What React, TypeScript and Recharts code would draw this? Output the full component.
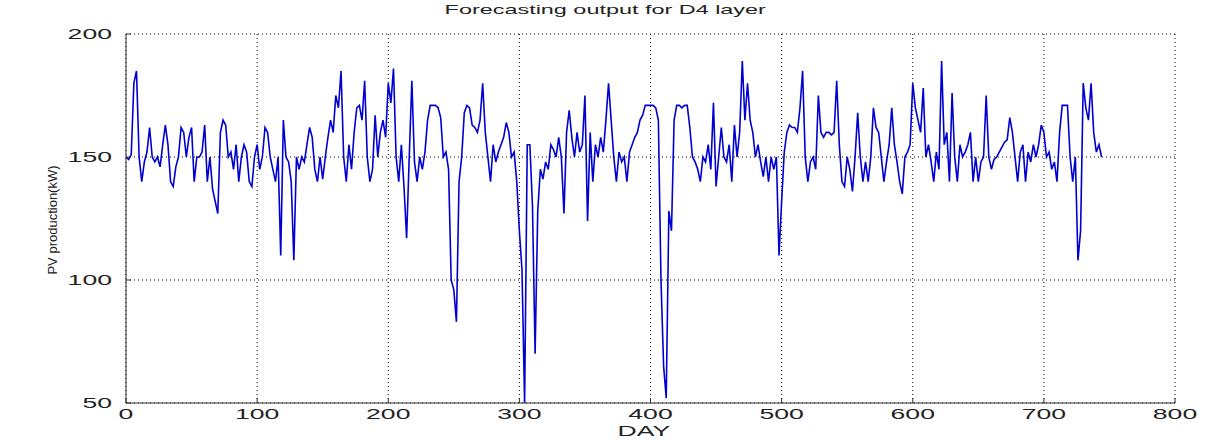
import React from "react";
import { LineChart, Line, XAxis, YAxis, CartesianGrid } from "recharts";

// PV production (kW), one value every 2 days, grouped by 100-day blocks
const pv000 = [150,149,151,180,185,150,140,148,152,162,150,148,150,146,155,163,155,140,138,146,150,162,160,150,158,162,140,150,150,152,163,140,150,137,132,127,160,165,163,150,152,145,155,140,150,155,152,140,138,150];
const pv100 = [155,145,150,162,160,150,145,140,150,110,165,150,148,140,108,150,145,150,148,155,162,158,145,140,150,141,150,158,165,160,175,170,185,150,140,155,145,160,170,171,165,181,150,140,145,167,150,160,165,158];
const pv200 = [180,172,186,150,140,155,138,117,150,181,148,140,150,145,152,165,171,171,171,170,166,150,152,145,100,96,83,140,150,168,171,170,163,162,160,165,180,160,150,140,155,148,152,155,158,164,160,150,152,140];
const pv300 = [120,104,50,155,155,130,70,128,145,141,148,145,155,153,150,158,150,127,160,169,158,150,160,152,155,175,124,160,140,155,150,158,152,165,180,165,150,140,152,148,150,140,152,155,158,160,165,167,171,171];
const pv400 = [171,171,170,165,100,65,52,128,120,165,171,171,170,171,171,162,150,148,145,140,150,148,155,145,172,138,150,162,150,148,155,140,163,150,160,189,165,180,165,160,150,155,148,142,150,140,150,145,150,110];
const pv500 = [132,152,160,163,162,162,160,170,185,150,140,148,150,145,175,160,158,160,160,159,160,181,155,140,138,150,145,136,150,168,150,140,148,140,150,170,162,160,150,140,148,155,170,155,148,140,135,150,152,155];
const pv600 = [180,170,165,160,178,150,155,148,140,152,145,189,155,160,140,176,150,140,155,150,152,155,160,140,150,140,148,150,175,150,145,149,150,152,154,156,157,166,160,150,140,152,155,140,152,148,155,150,155,163];
const pv700 = [160,150,152,145,148,140,160,171,171,171,150,140,150,108,120,180,170,165,180,160,152,155,150];

const blocks: [number, number[]][] = [
  [0, pv000], [100, pv100], [200, pv200], [300, pv300],
  [400, pv400], [500, pv500], [600, pv600], [700, pv700],
];

const xTicks = [0, 100, 200, 300, 400, 500, 600, 700, 800];
const yTicks = [50, 100, 150, 200];

const titleText = "Forecasting output for D4 layer";
const xLabelText = "DAY";
const yLabelText = "PV production(kW)";

const data = blocks.flatMap(([start, vals]) =>
  vals.map((v, i) => ({ day: start + i * 2, pv: v }))
);

const FONT = "'Liberation Sans', Arial, sans-serif";
const STRETCH = 1.9;

const XTick = (props: any) => {
  const { x, y, payload } = props;
  return (
    <g transform={`translate(${x},${y + 16})`}>
      <text transform={`scale(${STRETCH},1)`} textAnchor="middle" fontFamily={FONT} fontSize={14} fill="#222">
        {payload.value}
      </text>
    </g>
  );
};

const YTick = (props: any) => {
  const { x, y, payload } = props;
  return (
    <g transform={`translate(${x - 14},${y + 5})`}>
      <text transform={`scale(${STRETCH},1)`} textAnchor="end" fontFamily={FONT} fontSize={14} fill="#222">
        {payload.value}
      </text>
    </g>
  );
};

const Empty = () => <g />;

export default function App() {
  return (
    <div style={{ position: "absolute", left: 0, top: 0, width: 1209, height: 441, background: "#fff" }}>
      <LineChart width={1209} height={441} data={data} margin={{ top: 34, right: 34, bottom: 0, left: 0 }}>
        <CartesianGrid stroke="#000" strokeDasharray="1 3" strokeWidth={1} verticalValues={xTicks} horizontalValues={yTicks} />
        <XAxis
          dataKey="day" type="number" domain={[0, 800]} ticks={xTicks} height={38}
          tick={<XTick />} tickSize={-5} tickMargin={5}
          axisLine={{ stroke: "#333" }} tickLine={{ stroke: "#333" }} interval={0}
        />
        <XAxis
          xAxisId="top" orientation="top" dataKey="day" type="number" domain={[0, 800]} ticks={xTicks} height={0}
          tick={<Empty />} tickSize={-5} tickMargin={0}
          axisLine={{ stroke: "#333" }} tickLine={{ stroke: "#333" }} interval={0}
        />
        <YAxis
          domain={[50, 200]} ticks={yTicks} width={126} type="number"
          tick={<YTick />} tickSize={-5} tickMargin={5}
          axisLine={{ stroke: "#333" }} tickLine={{ stroke: "#333" }} interval={0}
        />
        <YAxis
          yAxisId="right" orientation="right" domain={[50, 200]} ticks={yTicks} width={0} type="number"
          tick={<Empty />} tickSize={-5} tickMargin={0}
          axisLine={{ stroke: "#333" }} tickLine={{ stroke: "#333" }} interval={0}
        />
        <Line
          type="linear" dataKey="pv" stroke="#0000d0" strokeWidth={1.6} dot={false}
          isAnimationActive={false}
        />
      </LineChart>
      <div style={{ position: "absolute", left: 405, top: 2, width: 400, textAlign: "center", fontFamily: FONT, fontSize: 13, color: "#222", lineHeight: "16px" }}>
        <span style={{ display: "inline-block", transform: "scaleX(1.8)" }}>{titleText}</span>
      </div>
      <div style={{ position: "absolute", left: 544, top: 423, width: 200, textAlign: "center", fontFamily: FONT, fontSize: 14, color: "#222", lineHeight: "16px" }}>
        <span style={{ display: "inline-block", transform: "scaleX(1.9)" }}>{xLabelText}</span>
      </div>
      <div style={{ position: "absolute", left: 53, top: 220, width: 0, height: 0 }}>
        <div style={{ position: "absolute", left: -100, top: -8, width: 200, textAlign: "center", fontFamily: FONT, fontSize: 13, color: "#222", lineHeight: "16px", transform: "rotate(-90deg)", whiteSpace: "nowrap" }}>
          {yLabelText}
        </div>
      </div>
    </div>
  );
}
